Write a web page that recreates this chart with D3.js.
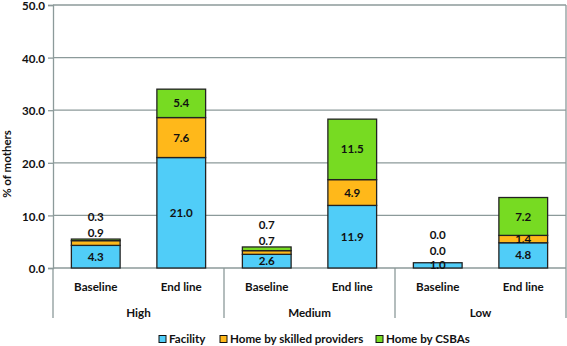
<!DOCTYPE html>
<html><head><meta charset="utf-8">
<script src="https://cdn.jsdelivr.net/npm/d3@7"></script>
<style>
body{margin:0;background:#fff;}
text{font-family:Lato,"Open Sans",sans-serif;fill:#111;}
</style></head>
<body><svg id="c" width="567" height="346"></svg>
<script>
const groups = ["High","Medium","Low"];
const periods = ["Baseline","End line"];
const categories = ["High|Baseline","High|End line","Medium|Baseline","Medium|End line","Low|Baseline","Low|End line"];
const seriesNames = ["Facility","Home by skilled providers","Home by CSBAs"];
const facility = [4.3, 21.0, 2.6, 11.9, 1.0, 4.8];
const skilled  = [0.9, 7.6, 0.7, 4.9, 0.0, 1.4];
const csba     = [0.3, 5.4, 0.7, 11.5, 0.0, 7.2];
const yTicks = [0,10,20,30,40,50];
const colors = ["#50CDF8","#FFB81A","#77DB22"];

const FS = 11.6;
const svg = d3.select("#c");
const L=53, R=566, T=5, B=268;
const x = d3.scaleBand().domain(categories).range([L,R]).paddingInner(0.43).paddingOuter(0.215);
const y = d3.scaleLinear().domain([0,50]).range([B,T]);

// grid
svg.append("g").selectAll("line").data(yTicks.filter(d=>d>0)).join("line")
  .attr("x1",L).attr("x2",R).attr("y1",d=>y(d)).attr("y2",d=>y(d))
  .attr("stroke","#8c9a9a").attr("stroke-width",1.3);

// y axis
const ya = svg.append("g").attr("transform",`translate(${L},0)`)
  .call(d3.axisLeft(y).tickValues(yTicks).tickFormat(d3.format(".1f")).tickSize(5).tickPadding(3));
ya.select(".domain").attr("stroke","#8c9a9a").attr("stroke-width",1.3);
ya.selectAll(".tick line").attr("stroke","#8c9a9a").attr("stroke-width",1.3);
ya.selectAll("text").attr("font-size",FS).attr("font-weight",700).attr("fill","#111")
  .attr("dy","0.4em").style("font-family","Lato,sans-serif");

// x baseline
svg.append("line").attr("x1",L).attr("x2",R).attr("y1",B).attr("y2",B).attr("stroke","#8c9a9a").attr("stroke-width",1.3);
// right border
svg.append("line").attr("x1",R).attr("x2",R).attr("y1",T).attr("y2",B+50).attr("stroke","#8c9a9a").attr("stroke-width",1.3);

// stack
const rows = categories.map((c,i)=>({cat:c, f:facility[i], s:skilled[i], c2:csba[i]}));
const stack = d3.stack().keys(["f","s","c2"])(rows);
const sg = svg.append("g");
stack.forEach((layer,k)=>{
  sg.append("g").selectAll("rect").data(layer).join("rect")
    .attr("x",d=>x(d.data.cat)).attr("width",x.bandwidth())
    .attr("y",d=>y(d[1])).attr("height",d=>Math.max(0,y(d[0])-y(d[1])))
    .attr("fill",colors[k]).attr("stroke","#222").attr("stroke-width",1.3);
});

// labels
const lg = svg.append("g");
rows.forEach((r,i)=>{
  const total = r.f+r.s+r.c2;
  const top = y(total);
  const cx = x(r.cat)+x.bandwidth()/2;
  const segs = [stack[0][i],stack[1][i],stack[2][i]];
  const ys = segs.map(d=>(y(d[0])+y(d[1]))/2);
  if (total < 8) {
    ys[1] = Math.min(top-6, ys[0]-14);
    ys[2] = ys[1]-16;
  }
  segs.forEach((d,k)=>{
    lg.append("text").attr("x",cx).attr("y",ys[k])
      .attr("dy","0.35em").attr("text-anchor","middle")
      .attr("font-size",FS).attr("font-weight",700)
      .text((d[1]-d[0]).toFixed(1));
  });
});

// category labels
categories.forEach(c=>{
  svg.append("text").attr("x",x(c)+x.bandwidth()/2).attr("y",287).attr("dy","0.35em")
    .attr("text-anchor","middle").attr("font-size",FS).attr("font-weight",700)
    .text(c.split("|")[1]);
});
// group separators + labels
const gw = (R-L)/groups.length;
groups.forEach((g,i)=>{
  svg.append("line").attr("x1",L+gw*i).attr("x2",L+gw*i).attr("y1",B).attr("y2",B+50)
    .attr("stroke","#8c9a9a").attr("stroke-width",1.3);
  svg.append("text").attr("x",L+gw*(i+0.5)).attr("y",313).attr("dy","0.35em")
    .attr("text-anchor","middle").attr("font-size",FS).attr("font-weight",700).text(g);
});

// y label
svg.append("text").attr("transform","translate(7,164) rotate(-90)").attr("text-anchor","middle")
  .attr("dy","0.35em").attr("font-size",11.5).attr("font-weight",700).text("% of mothers");

// legend
const legX = [159, 220, 376];
seriesNames.forEach((n,i)=>{
  svg.append("rect").attr("x",legX[i]).attr("y",335.5).attr("width",7).attr("height",7)
    .attr("fill",colors[i]).attr("stroke","#111").attr("stroke-width",1);
  svg.append("text").attr("x",legX[i]+10).attr("y",339).attr("dy","0.35em")
    .attr("font-size",FS).attr("font-weight",700).text(n);
});
</script></body></html>
